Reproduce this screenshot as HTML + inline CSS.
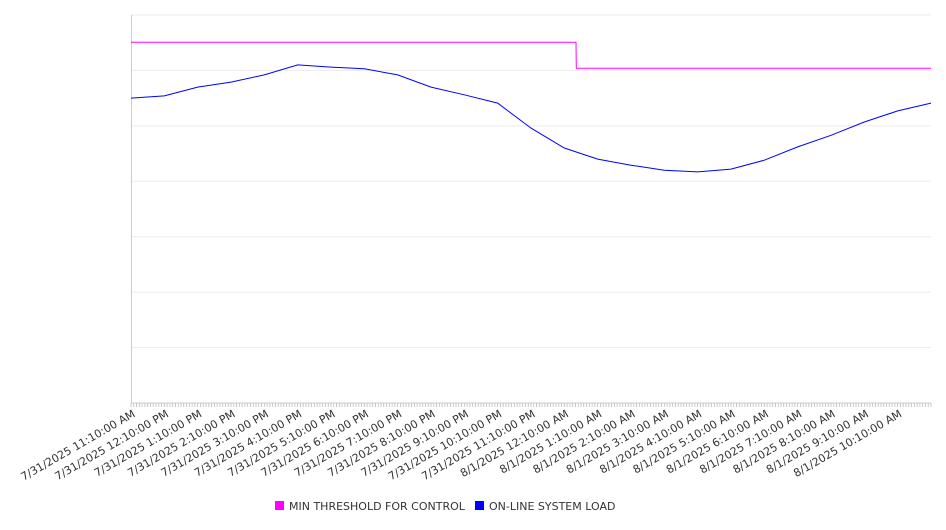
<!DOCTYPE html>
<html><head><meta charset="utf-8"><style>
body{margin:0;background:#fff;font-family:"DejaVu Sans","Liberation Sans",sans-serif;}
svg text{font-family:"DejaVu Sans","Liberation Sans",sans-serif;}
</style></head><body>
<svg id="chart" width="946" height="526" xmlns="http://www.w3.org/2000/svg">
<g id="grid"></g>
<g id="xaxis"></g>
<g id="series"></g>
<g>
<rect x="275" y="501" width="9" height="9" fill="#ff00ff"/>
<text x="289" y="510" font-size="11" fill="#333">MIN THRESHOLD FOR CONTROL</text>
<rect x="475" y="501" width="9" height="9" fill="#0000ff"/>
<text x="489" y="510" font-size="11" fill="#333">ON-LINE SYSTEM LOAD</text>
</g>
</svg>
<script>
const tickLabels = ["7/31/2025 11:10:00 AM","7/31/2025 12:10:00 PM","7/31/2025 1:10:00 PM","7/31/2025 2:10:00 PM","7/31/2025 3:10:00 PM","7/31/2025 4:10:00 PM","7/31/2025 5:10:00 PM","7/31/2025 6:10:00 PM","7/31/2025 7:10:00 PM","7/31/2025 8:10:00 PM","7/31/2025 9:10:00 PM","7/31/2025 10:10:00 PM","7/31/2025 11:10:00 PM","8/1/2025 12:10:00 AM","8/1/2025 1:10:00 AM","8/1/2025 2:10:00 AM","8/1/2025 3:10:00 AM","8/1/2025 4:10:00 AM","8/1/2025 5:10:00 AM","8/1/2025 6:10:00 AM","8/1/2025 7:10:00 AM","8/1/2025 8:10:00 AM","8/1/2025 9:10:00 AM","8/1/2025 10:10:00 AM"];
const loadHours = [0,1,2,3,4,5,6,7,8,9,10,11,12,13,14,15,16,17,18,19,20,21,22,23,24];
const loadValues = [550,554,570,579,592,610,606,603,592,570,556,541,496,460,440,429,420,417,422,438,462,483,507,527,541];
const thresholdHours = [0,13.35,13.36,24];
const thresholdValues = [651,651,604,604];
const yTicks = [0,100,200,300,400,500,600,700];

const X0=131,X1=931,Y0=403,Y1=15,HMAX=24,VMAX=700;
const xs=h=>X0+(h/HMAX)*(X1-X0);
const ys=v=>Y0-(v/VMAX)*(Y0-Y1);
const NS="http://www.w3.org/2000/svg";
function mk(tag,attrs,parent){const e=document.createElementNS(NS,tag);for(const k in attrs)e.setAttribute(k,attrs[k]);parent.appendChild(e);return e;}
const grid=document.getElementById('grid'),xa=document.getElementById('xaxis'),ser=document.getElementById('series');
yTicks.forEach(v=>{const l=mk('line',{x1:X0,x2:X1,y1:ys(v),y2:ys(v),stroke:v===0?'#ccc':'#ebebeb','stroke-width':1},grid);

});
const ax=mk('line',{x1:X0+0.5,x2:X0+0.5,y1:Y1,y2:Y0,stroke:'#ccc'},grid);


for(let m=0;m<=288;m++){const x=X0+m*(X1-X0)/288;const t=mk('line',{x1:x,x2:x,y1:Y0,y2:Y0+4,stroke:'#bbb','stroke-width':0.8},xa);

}
tickLabels.forEach((s,i)=>{const x=xs(i)+5;const t=mk('text',{x:x,y:Y0+13,'text-anchor':'end','font-size':11,fill:'#333',transform:`rotate(-30 ${x} ${Y0+13})`},xa);t.textContent=s;

});
function path(hs,vs,color,name){const d=hs.map((h,i)=>(i?'L':'M')+xs(h).toFixed(1)+' '+ys(vs[i]).toFixed(1)).join(' ');
const p=mk('path',{d:d,fill:'none',stroke:color,'stroke-width':1},ser);

}
path(thresholdHours,thresholdValues,'#ff00ff','threshold-line');
path(loadHours,loadValues,'#0000ff','load-line');
</script>
</body></html>
